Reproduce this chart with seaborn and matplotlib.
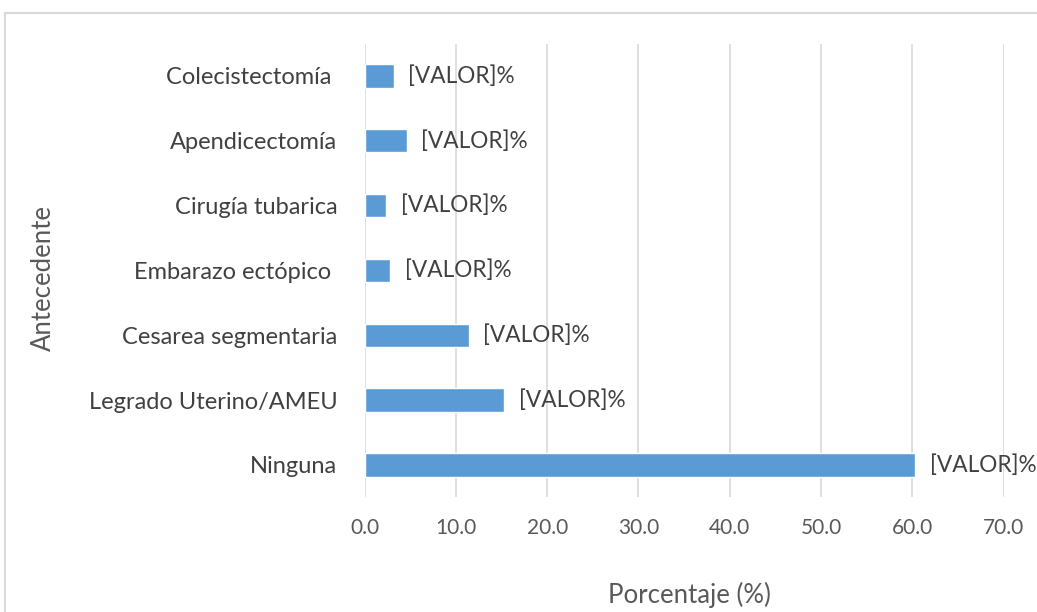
import matplotlib
matplotlib.use("Agg")
import matplotlib.pyplot as plt
import seaborn as sns
import pandas as pd
from matplotlib.patches import Rectangle

categories = ["Colecistectomía ", "Apendicectomía", "Cirugía tubarica", "Embarazo ectópico ",
              "Cesarea segmentaria", "Legrado Uterino/AMEU", "Ninguna"]
values = [3.2, 4.6, 2.4, 2.8, 11.4, 15.3, 60.3]
labels = ["[VALOR]%"] * 7
xticks = [0, 10, 20, 30, 40, 50, 60, 70]

sns.set_theme(style="white")
plt.rcParams["font.family"] = ["Lato", "DejaVu Sans"]

df = pd.DataFrame({"cat": categories, "val": values})
fig = plt.figure(figsize=(10.37, 6.12), dpi=100)
ax = fig.add_axes([0.3515, 0.1873, 0.6165, 0.7415])
sns.barplot(data=df, y="cat", x="val", orient="h", color="#5B9BD5", saturation=1,
            width=0.36, ax=ax)

ax.set_xlim(0, 70)
ax.set_ylim(6.5, -0.5)
ax.set_xticks(xticks)
ax.set_xticklabels([f"{t:.1f}" for t in xticks], fontsize=15, color="#595959")
ax.tick_params(axis="y", labelsize=17, labelcolor="#404040", length=0, pad=19.5)
ax.tick_params(axis="x", length=0, pad=15)
ax.grid(axis="x", color="#d9d9d9", linewidth=1.2)
ax.set_axisbelow(True)
for s in ax.spines.values():
    s.set_visible(False)

for i, (v, lab) in enumerate(zip(values, labels)):
    ax.annotate(lab, xy=(v, i), xytext=(10.5, 0), textcoords="offset points",
                va="center", ha="left", fontsize=16.3, color="#404040")

ax.set_xlabel("Porcentaje (%)", fontsize=18.5, color="#595959")
ax.xaxis.label.set_va("center")
ax.xaxis.set_label_coords(0.508, -0.215)
ax.set_ylabel("Antecedente", fontsize=18.5, color="#595959")
ax.yaxis.label.set_va("center")
ax.yaxis.set_label_coords(-0.503, 0.483)

fig.patches.append(Rectangle((5 / 1037, -0.1), 1.2, 1 - 13 / 612 + 0.1,
                             transform=fig.transFigure, fill=False,
                             edgecolor="#d9d9d9", linewidth=1.5))
fig.savefig("out.png", dpi=100, facecolor="white")
